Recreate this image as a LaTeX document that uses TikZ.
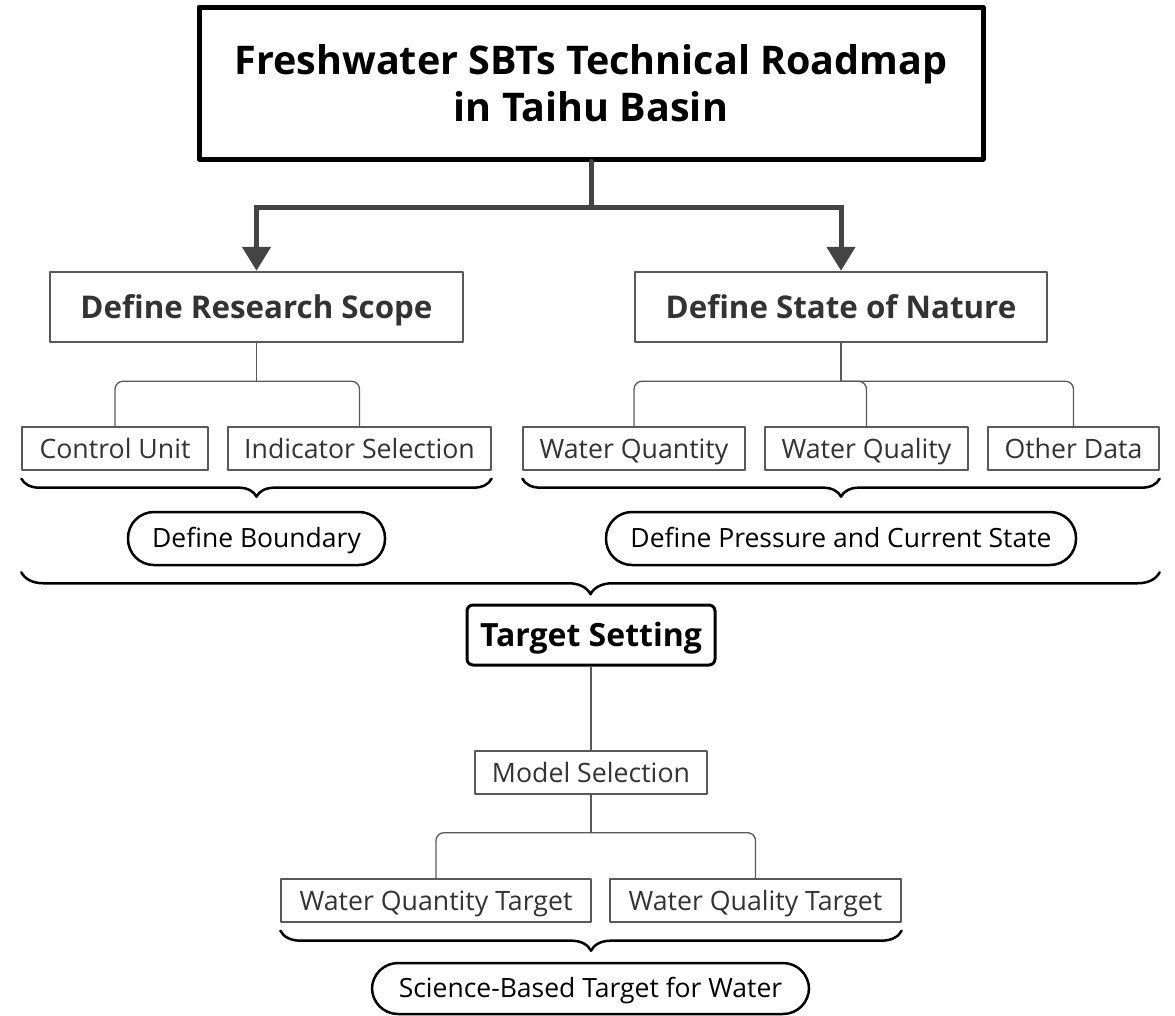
\documentclass[tikz,border=0pt]{standalone}
\usepackage{fontspec}
\setmainfont{Open Sans}
\usetikzlibrary{arrows.meta,decorations.pathreplacing}
\definecolor{linegray}{HTML}{444444}
\definecolor{boxgray}{HTML}{595959}
\definecolor{txtgray}{HTML}{333333}
\tikzset{
  roadmap/.style={draw=black,line width=5pt,minimum width=784pt,minimum height=152pt,align=center,font=\fontsize{39.5}{47}\selectfont\bfseries},
  capline/.style={text height=#1,text depth=0pt},
  stagebox/.style={capline=22.4pt,draw=boxgray,line width=2.5pt,minimum height=70pt,text=txtgray,font=\fontsize{31.3}{36}\selectfont\bfseries},
  itembox/.style={capline=19pt,draw=boxgray,line width=1.3pt,minimum height=43pt,text=txtgray,font=\fontsize{26.7}{31}\selectfont},
  resultbox/.style={capline=18.9pt,draw=black,line width=2.5pt,rounded corners=26pt,minimum height=53pt,font=\fontsize{26.5}{31}\selectfont},
  targetbox/.style={capline=22.8pt,draw=black,line width=3pt,rounded corners=6pt,minimum width=248pt,minimum height=60pt,font=\fontsize{32}{36}\selectfont\bfseries},
  trunk/.style={draw=linegray,line width=5pt,line join=miter},
  branch/.style={draw=boxgray,line width=1.3pt,rounded corners=8pt},
  bracebar/.style={draw=black,line width=2.5pt,decorate,decoration={brace,mirror,amplitude=#1}}
}
\begin{document}
\begin{tikzpicture}[x=1pt,y=-1pt,line cap=round,line join=round]
\useasboundingbox (0,0) rectangle (1175,1015);
\node[roadmap] (title) at (591,83) {Freshwater SBTs Technical Roadmap\\in Taihu Basin};
\node[stagebox,minimum width=413pt] (drs) at (256.5,307) {Define Research Scope};
\node[stagebox,minimum width=412pt] (dsn) at (841,307) {Define State of Nature};
\node[itembox,minimum width=186pt] (cu) at (115,448.5) {Control Unit};
\node[itembox,minimum width=263pt] (is) at (359.5,448.5) {Indicator Selection};
\node[itembox,minimum width=222pt] (wqn) at (634,448.5) {Water Quantity};
\node[itembox,minimum width=203pt] (wql) at (866.5,448.5) {Water Quality};
\node[itembox,minimum width=171pt] (od) at (1073.5,448.5) {Other Data};
\node[resultbox,minimum width=257pt] (db) at (256.5,538.5) {Define Boundary};
\node[resultbox,minimum width=470pt] (dp) at (841,538.5) {Define Pressure and Current State};
\node[targetbox] (ts) at (591,635) {Target Setting};
\node[itembox,minimum width=232pt] (ms) at (591,772.5) {Model Selection};
\node[itembox,minimum width=310pt] (wqnt) at (436,900.5) {Water Quantity Target};
\node[itembox,minimum width=291pt] (wqlt) at (755.5,900.5) {Water Quality Target};
\node[resultbox,minimum width=437pt,minimum height=51pt] (sbt) at (590.5,988.5) {Science-Based Target for Water};

\draw[trunk] (title.south) -- ++(0,46) coordinate (fork);
\draw[trunk,-{Triangle[length=24pt,width=28pt]}] (fork) -| (drs.north);
\draw[trunk,-{Triangle[length=24pt,width=28pt]}] (fork) -| (dsn.north);

\draw[branch] (drs.south) -- ++(0,38) coordinate (drsj);
\draw[branch] (drsj) -| (cu.north);
\draw[branch] (drsj) -| (is.north);
\draw[branch] (dsn.south) -- ++(0,38) coordinate (dsnj);
\draw[branch] (dsnj) -| (wqn.north);
\draw[branch] (dsnj) -| (wql.north);
\draw[branch] (dsnj) -| (od.north);

\draw[bracebar=18pt] ([yshift=-8pt]cu.south west) -- ([yshift=-8pt]is.south east);
\draw[bracebar=18pt] ([yshift=-8pt]wqn.south west) -- ([yshift=-8pt]od.south east);
\draw[bracebar=22pt] ([yshift=-6pt]cu.west |- db.south) -- ([yshift=-6pt]od.east |- dp.south);

\draw[branch] (ts.south) -- (ms.north);
\draw[branch] (ms.south) -- ++(0,38) coordinate (msj);
\draw[branch] (msj) -| (wqnt.north);
\draw[branch] (msj) -| (wqlt.north);
\draw[bracebar=20pt] ([yshift=-8pt]wqnt.south west) -- ([yshift=-8pt]wqlt.south east);
\end{tikzpicture}
\end{document}
